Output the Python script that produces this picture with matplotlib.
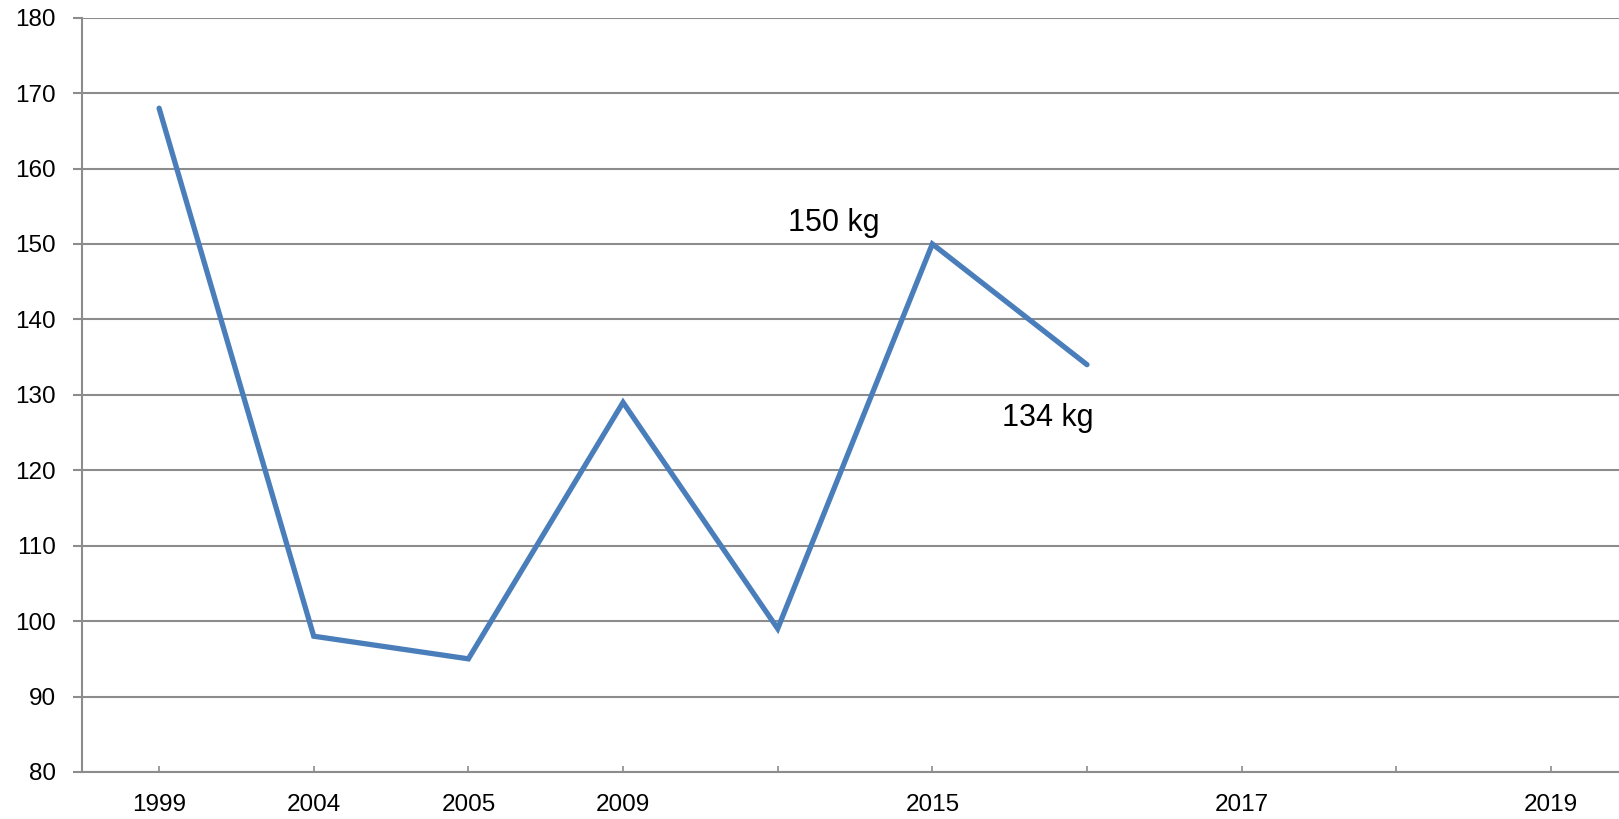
import numpy as np
from matplotlib import pyplot as plt

# category axis (some categories carry no label)
categories = ["1999", "2004", "2005", "2009", "", "2015", "", "2017", "", "2019"]
values = [168, 98, 95, 129, 99, 150, 134]
pointLabels = {5: "150 kg", 6: "134 kg"}

lineColor = "#4A7EBB"
gridColor = "#8C8C8C"

plt.rcParams['font.family'] = ['Liberation Sans', 'DejaVu Sans']

fig = plt.figure(figsize=(16.19, 8.19), dpi=100)
ax = fig.add_axes([0.0505, 0.0574, 0.9495, 0.921])

x = np.arange(len(values))
ax.plot(x, values, color=lineColor, linewidth=3.8, solid_joinstyle='miter',
        solid_capstyle='round', zorder=3)

# data labels, offsets in pixels from the point
ax.annotate(pointLabels[5], xy=(5, values[5]), xytext=(-99, 21), textcoords='offset pixels',
            fontsize=22, ha='center', va='center')
ax.annotate(pointLabels[6], xy=(6, values[6]), xytext=(-39, -53), textcoords='offset pixels',
            fontsize=22, ha='center', va='center')

ax.set_xlim(-0.5, 9.44)
ax.set_ylim(80, 180)
ax.set_xticks(np.arange(len(categories)))
ax.set_xticklabels(categories)
ax.set_yticks(np.arange(80, 181, 10))

ax.grid(axis='y', color=gridColor, linewidth=1.5)
ax.set_axisbelow(True)
for side in ['top', 'right']:
    ax.spines[side].set_visible(False)
for side in ['left', 'bottom']:
    ax.spines[side].set_color(gridColor)
    ax.spines[side].set_linewidth(1.5)

ax.tick_params(axis='x', direction='in', length=4.3, width=1.2, color=gridColor,
               labelsize=17.5, pad=16)
ax.tick_params(axis='y', direction='out', length=6.5, width=1.5, color=gridColor,
               labelsize=17.5, pad=12)

fig.savefig("out.png", dpi=100)
